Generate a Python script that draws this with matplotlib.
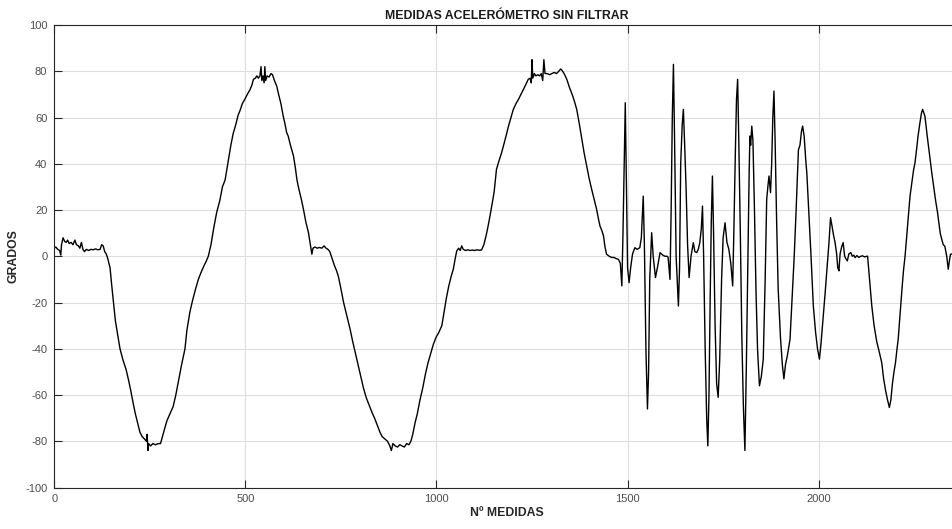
import matplotlib.pyplot as plt

medida = [0, 4, 9, 14, 17, 19, 23, 27, 31, 35, 39, 44, 49, 54, 58, 63, 67, 71, 75, 79,
          84, 90, 96, 102, 108, 114, 120, 124, 128, 132, 136, 140,
          146, 150, 155, 160, 165, 172, 180, 188, 195, 200, 207, 212, 218, 224, 230, 236,
          241, 243, 245, 247, 252, 258, 265, 272, 278, 283, 288, 295, 303, 311, 318, 325,
          333, 342, 347, 355, 362, 370, 377, 384, 392, 398, 403, 410, 417, 425, 433, 440,
          447, 455, 462, 468, 475, 481, 486, 492, 499, 505, 512, 517, 521, 526, 530, 534,
          538, 541, 543, 546, 549, 551, 553, 557, 562, 567, 571, 576, 582, 587, 593, 599,
          604, 608, 612, 618, 626, 631, 635, 640, 646, 652, 658, 665, 670, 674, 677, 682,
          688, 694, 700, 706, 711, 716, 721, 727, 733, 738, 743, 750, 757, 763, 769, 774,
          781, 788, 795, 802, 809, 816, 823, 830, 838, 845, 852, 858, 865, 872, 878, 882,
          886, 892, 898, 904, 910, 916, 922, 928, 933, 938, 944, 950, 957, 964, 971, 978,
          985, 992, 999, 1006, 1014, 1020, 1026, 1032, 1038, 1044, 1049, 1053, 1058, 1062,
          1066, 1070, 1076, 1082, 1088, 1094, 1100, 1106, 1112, 1118, 1124, 1130, 1135,
          1140, 1146, 1151, 1157, 1163, 1169, 1175, 1182, 1188, 1195, 1201, 1208, 1215,
          1221, 1227, 1233, 1240, 1245, 1248, 1250, 1252, 1256, 1260, 1265, 1270, 1274,
          1278, 1281, 1284, 1290, 1296, 1302, 1308, 1314, 1320, 1325, 1328, 1334, 1341,
          1348, 1355, 1361, 1367, 1374, 1380, 1386, 1393, 1399, 1406, 1412, 1419, 1424,
          1428, 1433, 1437, 1441, 1445, 1452, 1458, 1464, 1470, 1476, 1481, 1485, 1488,
          1494, 1497, 1500, 1504, 1508, 1513, 1519, 1525, 1532, 1536, 1541, 1544, 1548,
          1552, 1555, 1558, 1563, 1567, 1573, 1578, 1585, 1592, 1598, 1604, 1606, 1611,
          1614, 1617, 1620, 1623, 1627, 1633, 1636, 1639, 1643, 1646, 1649, 1653, 1657,
          1661, 1666, 1672, 1676, 1681, 1685, 1689, 1693, 1696, 1699, 1703, 1707, 1710,
          1713, 1716, 1719, 1722, 1725, 1729, 1733, 1737, 1741, 1746, 1750, 1755, 1760,
          1765, 1770, 1775, 1778, 1782, 1785, 1788, 1791, 1795, 1799, 1803, 1807, 1811,
          1815, 1818, 1820, 1822, 1825, 1828, 1832, 1836, 1840, 1845, 1850, 1855, 1860,
          1864, 1867, 1870, 1874, 1877, 1880, 1883, 1886, 1890, 1894, 1900, 1905, 1909,
          1913, 1918, 1925, 1930, 1936, 1941, 1947, 1951, 1955, 1958, 1962, 1966, 1969,
          1974, 1980, 1986, 1992, 1997, 2002, 2006, 2011, 2017, 2022, 2027, 2031, 2035,
          2039, 2043, 2047, 2050, 2053, 2056, 2060, 2064, 2068, 2071, 2075, 2079, 2084,
          2088, 2092, 2095, 2100, 2105, 2110, 2115, 2120, 2125, 2128, 2133, 2139, 2145,
          2152, 2158, 2165, 2170, 2175, 2180, 2185, 2189, 2193, 2197, 2201, 2205, 2208,
          2213, 2218, 2222, 2226, 2230, 2235, 2239, 2244, 2248, 2252, 2256, 2260, 2265,
          2269, 2272, 2275, 2278, 2284, 2290, 2296, 2301, 2306, 2311, 2315, 2318, 2322,
          2326, 2330, 2335, 2339, 2342, 2345, 2350, 2360, 2370]

grados = [3.5, 4, 3, 2.5, 0.5, 5, 8, 6.5, 6, 7, 5.5, 6, 5, 7, 5, 4.5, 3.5, 6, 3, 2,
          3, 2.5, 3, 2.8, 3.2, 2.8, 3, 5, 4.5, 2, 1, -1,
          -5, -12, -20, -28, -33, -40, -45, -49, -54, -58, -64, -68, -72, -76, -78, -79,
          -80, -77, -84, -81, -82, -81, -81.5, -81, -81, -78, -75, -71, -68, -65, -60, -54,
          -47, -40, -32, -24, -19, -14, -10, -7, -4, -2, 0, 5, 12, 19, 24, 30,
          33, 41, 48, 53, 57, 61, 63, 66, 68, 70, 72, 74, 76.5, 77, 78, 77,
          78, 82, 76, 78, 75, 82, 76, 78, 77.5, 79, 78.5, 76, 73.6, 70, 66, 60.6,
          57, 53.5, 52, 48, 43.3, 38, 33, 29, 25, 20.3, 15, 10.3, 5, 0.9, 3.5, 4,
          3.5, 3.8, 3.5, 4.5, 3.5, 3, 2, -1, -4, -6, -8.5, -14, -20, -24, -28, -31.5,
          -37, -42, -47, -52, -57, -61, -64, -67, -70, -73, -76, -78, -79, -80, -82, -84,
          -81, -82, -82.5, -81.5, -82, -82.5, -81, -81.5, -80, -77, -72, -68, -62, -57, -51, -46,
          -42, -38, -35, -33, -30, -24, -18, -13, -9, -5.6, -1, 2.3, 3.5, 2.5,
          4.5, 3, 2.5, 2.8, 2.5, 2.7, 2.5, 2.8, 2.6, 2.7, 5, 9, 13,
          17.4, 23, 28, 37.6, 41, 44, 47.6, 52, 56, 60, 63.5, 66, 68,
          70, 72, 74, 76.5, 77, 75, 85, 77, 79, 78, 78.5, 78, 79,
          76, 85, 79, 79, 78.5, 79, 79.5, 79, 80, 81, 80.5, 79, 76.5,
          73, 70, 67, 63.5, 57, 51, 45, 39, 34, 29, 25, 20.3, 16,
          13, 11, 8.8, 4, 0.9, 0, -0.5, -0.5, -1, -1.3, -3, -12.8, 10,
          66.4, 30, -5, -11.4, -5, 1, 3.7, 3, 3.7, 8, 26, 5, -40,
          -66, -50, -10, 10.2, 0, -9.2, -5, 1.6, 0.5, 0, 0, -0.5, -10,
          20, 60, 83, 50, 0, -21.5, -5, 40, 57, 63.5, 50, 30, 5,
          -9.2, 0, 5.9, 2, 1.6, 3, 5.9, 12, 21.7, 0, -40, -70, -82,
          -60, -20, 15, 34.7, 10, -30, -55, -61, -45, -10, 8, 14.5, 6,
          3, -3, -12.8, 10, 45, 68, 76.5, 50, 10, -35, -65, -84, -45,
          0, 35, 52, 48, 56.3, 50, 20, -15, -40, -56, -52, -44.5, -10,
          24.6, 30, 34.7, 27.5, 40, 60, 71.4, 50, 15, -14, -35, -47, -53,
          -47, -43, -36, -20, 0, 20, 46, 48, 54, 56.3, 52, 42, 36,
          20, 0, -21.5, -33, -40, -44.5, -38, -28, -15.7, -5, 6, 16.7, 13,
          9, 5.9, 1, -5, -6.3, 1, 4, 5.9, 0, -1, -2, 1, 1.6,
          0, 0.5, -0.6, 0.3, -0.5, 0, 0.2, -0.3, 0, 0, -10, -21.5, -30,
          -37, -41, -46, -53, -58, -62, -65.4, -62, -55, -50, -46, -40, -36,
          -25, -14, -6, 0, 8, 18, 26, 32, 37, 40.5, 46, 52, 57.8,
          62, 63.5, 62, 60.6, 52, 44, 36, 30, 24, 18.9, 14, 10, 7.3,
          5, 4.4, 0, -5.6, -2, 0.9, 1, 0.5, 1]

xticks = [0, 500, 1000, 1500, 2000]
yticks = [-100, -80, -60, -40, -20, 0, 20, 40, 60, 80, 100]

plt.rcParams['font.family'] = ['Liberation Sans', 'DejaVu Sans']
plt.rcParams['axes.unicode_minus'] = False

fig = plt.figure(figsize=(9.52, 5.29), dpi=100)
ax = fig.add_axes([0.057, 0.0784, 0.9515, 0.8743])

ax.plot(medida, grados, color='black', linewidth=1.0)

ax.set_xlim(0, 2370)
ax.set_ylim(-100, 100)
ax.set_xticks(xticks)
ax.set_yticks(yticks)

ax.grid(True, color='#dedede', linewidth=0.8)
ax.set_axisbelow(True)
ax.tick_params(direction='in', length=6, width=0.8, color='#262626',
               labelcolor='#4d4d4d', labelsize=8, top=True, right=True, pad=5)
for s in ax.spines.values():
    s.set_color('#262626')
    s.set_linewidth(0.8)

ax.set_title('MEDIDAS ACELERÓMETRO SIN FILTRAR', fontsize=8.8,
             fontweight='bold', color='#1a1a1a', pad=4)
ax.set_xlabel('Nº MEDIDAS', fontsize=8.8, fontweight='bold', color='#262626', labelpad=2)
ax.set_ylabel('GRADOS', fontsize=8.8, fontweight='bold', color='#262626', labelpad=4)

fig.savefig('out.png', dpi=100)
